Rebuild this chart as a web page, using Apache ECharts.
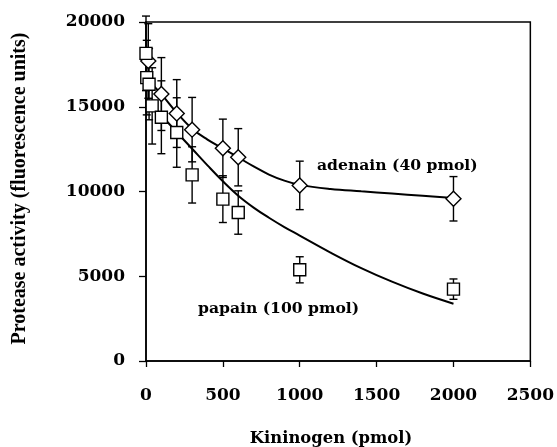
<!DOCTYPE html>
<html>
<head>
<meta charset="utf-8">
<script src="https://cdn.jsdelivr.net/npm/echarts@6/dist/echarts.min.js"></script>
<style>
  html, body { margin: 0; padding: 0; background: #fff; }
  #chart { width: 557px; height: 447px; }
</style>
</head>
<body>
<div id="chart"></div>
<script>
// ---- data ----
const xTickLabels = ['0', '500', '1000', '1500', '2000', '2500'];
const yTickLabels = ['0', '5000', '10000', '15000', '20000'];

// adenain (40 pmol) – diamonds
const adenainX   = [15, 100, 200, 300, 500, 600, 1000, 2000];
const adenainY   = [17700, 15750, 14600, 13650, 12550, 12020, 10360, 9570];
const adenainErr = [2200, 2150, 2000, 1900, 1720, 1690, 1430, 1310];

// papain (100 pmol) – squares
const papainX   = [0, 5, 20, 40, 100, 200, 300, 500, 600, 1000, 2000];
const papainY   = [18150, 16720, 16330, 15050, 14380, 13480, 10980, 9550, 8760, 5380, 4240];
const papainErr = [2200, 2200, 2100, 2250, 2150, 2050, 1660, 1380, 1280, 770, 600];

// fitted curves (traced)
const adenainCurveX = [0, 50, 100, 200, 300, 400, 500, 600, 700, 800, 900, 1000, 1200, 1400, 1600, 1800, 2000];
const adenainCurveY = [16700, 16230, 15750, 14650, 13700, 13060, 12540, 12010, 11480, 11000, 10640, 10390, 10150, 10010, 9880, 9750, 9620];
const papainCurveX = [0, 100, 200, 300, 400, 500, 600, 700, 800, 900, 1000, 1200, 1400, 1600, 1800, 2000];
const papainCurveY = [15500, 14500, 13500, 12520, 11540, 10600, 9750, 9050, 8450, 7900, 7400, 6400, 5480, 4680, 3980, 3380];

const zip = (xs, ys) => xs.map((x, i) => [x, ys[i]]);
const zip3 = (xs, ys, es) => xs.map((x, i) => [x, ys[i], es[i]]);

const serifWide = '"DejaVu Serif", serif';

function errRender(params, api) {
  const x = api.value(0), y = api.value(1), e = api.value(2);
  const top = api.coord([x, y + e]);
  const bot = api.coord([x, y - e]);
  const hw = 4;
  const st = { stroke: '#000', lineWidth: 1.4 };
  return {
    type: 'group',
    children: [
      { type: 'line', shape: { x1: top[0], y1: top[1], x2: bot[0], y2: bot[1] }, style: st },
      { type: 'line', shape: { x1: top[0] - hw, y1: top[1], x2: top[0] + hw, y2: top[1] }, style: st },
      { type: 'line', shape: { x1: bot[0] - hw, y1: bot[1], x2: bot[0] + hw, y2: bot[1] }, style: st }
    ]
  };
}

const chart = echarts.init(document.getElementById('chart'), null, { renderer: 'canvas' });
chart.setOption({
  animation: false,
  backgroundColor: '#fff',
  grid: {
    left: 146, top: 22, right: 25, bottom: 86,
    show: true, borderColor: '#000', borderWidth: 1.5, backgroundColor: 'transparent'
  },
  xAxis: {
    type: 'value', min: 0, max: 2500, interval: 500,
    axisLine: { show: true, lineStyle: { color: '#000', width: 1.5 } },
    axisTick: { show: true, inside: false, length: 6, lineStyle: { color: '#000', width: 1.3 } },
    splitLine: { show: false },
    axisLabel: {
      margin: 26, color: '#000', fontFamily: serifWide, fontWeight: 'bold', fontSize: 17,
      formatter: (v) => xTickLabels[Math.round(v / 500)]
    }
  },
  yAxis: {
    type: 'value', min: 0, max: 20000, interval: 5000,
    axisLine: { show: true, lineStyle: { color: '#000', width: 1.5 } },
    axisTick: { show: true, inside: false, length: 7, lineStyle: { color: '#000', width: 1.3 } },
    splitLine: { show: false },
    axisLabel: {
      margin: 21, color: '#000', fontFamily: serifWide, fontWeight: 'bold', fontSize: 17,
      formatter: (v) => yTickLabels[Math.round(v / 5000)]
    }
  },
  graphic: [
    { type: 'text', left: 317, top: 158,
      style: { text: 'adenain (40 pmol)', fill: '#000', font: 'bold 15.6px "DejaVu Serif", serif' } },
    { type: 'text', left: 198, top: 301,
      style: { text: 'papain (100 pmol)', fill: '#000', font: 'bold 15.6px "DejaVu Serif", serif' } },
    { type: 'text', x: 331, y: 439,
      style: { text: 'Kininogen (pmol)', fill: '#000', font: 'bold 16.4px "DejaVu Serif", serif',
               align: 'center', verticalAlign: 'middle' } },
    { type: 'text', x: 20, y: 188.5, rotation: Math.PI / 2,
      style: { text: 'Protease activity (fluorescence units)', fill: '#000',
               font: 'bold 20px "Liberation Serif", serif', align: 'center', verticalAlign: 'middle' } }
  ],
  series: [
    { type: 'line', data: zip(adenainCurveX, adenainCurveY), smooth: 0.4, showSymbol: false,
      lineStyle: { color: '#000', width: 2 }, z: 2 },
    { type: 'line', data: zip(papainCurveX, papainCurveY), smooth: 0.4, showSymbol: false,
      lineStyle: { color: '#000', width: 2 }, z: 2 },
    { type: 'custom', data: zip3(adenainX, adenainY, adenainErr), renderItem: errRender, clip: false, z: 3 },
    { type: 'custom', data: zip3(papainX, papainY, papainErr), renderItem: errRender, clip: false, z: 3 },
    { type: 'scatter', data: zip(adenainX, adenainY), symbol: 'diamond', symbolSize: [15, 15],
      itemStyle: { color: '#fff', borderColor: '#000', borderWidth: 1.4, opacity: 1 }, z: 4 },
    { type: 'scatter', data: zip(papainX, papainY), symbol: 'rect', symbolSize: [12, 12],
      itemStyle: { color: '#fff', borderColor: '#000', borderWidth: 1.4, opacity: 1 }, z: 5 }
  ]
});
</script>
</body>
</html>
